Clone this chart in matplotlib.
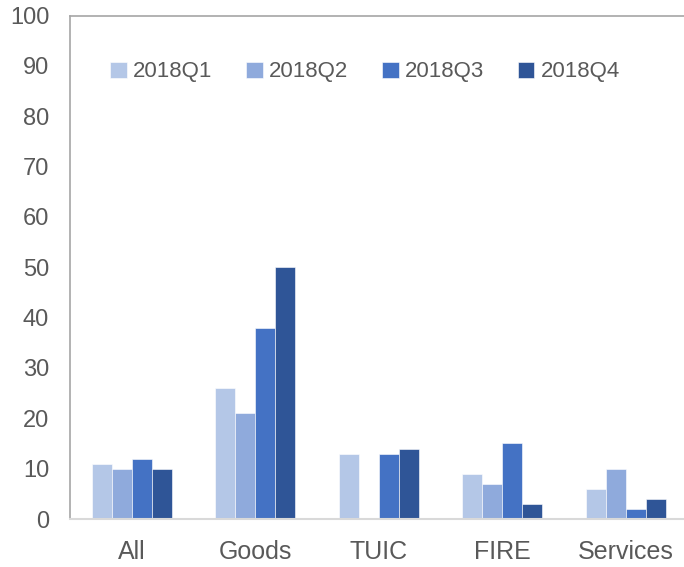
import numpy as np
import matplotlib.pyplot as plt

plt.rcParams['font.family'] = ['Liberation Sans', 'DejaVu Sans']

# Data
categories = ['All', 'Goods', 'TUIC', 'FIRE', 'Services']
quarters = ['2018Q1', '2018Q2', '2018Q3', '2018Q4']
q1 = [11, 26, 13, 9, 6]
q2 = [10, 21, 0, 7, 10]
q3 = [12, 38, 13, 15, 2]
q4 = [10, 50, 14, 3, 4]
yticks = list(range(0, 101, 10))

colors = ['#B4C7E7', '#8FAADC', '#4472C4', '#2F5597']
series = [q1, q2, q3, q4]

fig = plt.figure(figsize=(6.84, 5.67), dpi=100)
ax = fig.add_axes([70 / 684, 1 - 519 / 567, 617.5 / 684, 503.5 / 567])

x = np.arange(len(categories))
w = 0.162
for i, (vals, c, lab) in enumerate(zip(series, colors, quarters)):
    ax.bar(x + (i - 1.5) * w, vals, w, color=c, label=lab,
           edgecolor='white', linewidth=0.4)

ax.set_xlim(-0.5, len(categories) - 0.5)
ax.set_ylim(0, 100)
ax.set_yticks(yticks)
ax.set_xticks(x)
ax.set_xticklabels(categories)
ax.tick_params(axis='both', length=0, colors='#595959')
ax.tick_params(axis='y', pad=15, labelsize=17)
ax.tick_params(axis='x', pad=15, labelsize=18)

for s in ['left', 'top']:
    ax.spines[s].set_color('#A6A6A6')
    ax.spines[s].set_linewidth(1.2)
ax.spines['bottom'].set_color('#D9D9D9')
ax.spines['bottom'].set_linewidth(1.5)
ax.spines['right'].set_visible(False)

leg = ax.legend(loc='center', bbox_to_anchor=(0.478, 0.888), ncol=4,
                frameon=False, fontsize=16, handlelength=0.75,
                handleheight=0.75, handletextpad=0.3, columnspacing=1.5)
for t in leg.get_texts():
    t.set_color('#595959')

fig.savefig('out.png', dpi=100)
